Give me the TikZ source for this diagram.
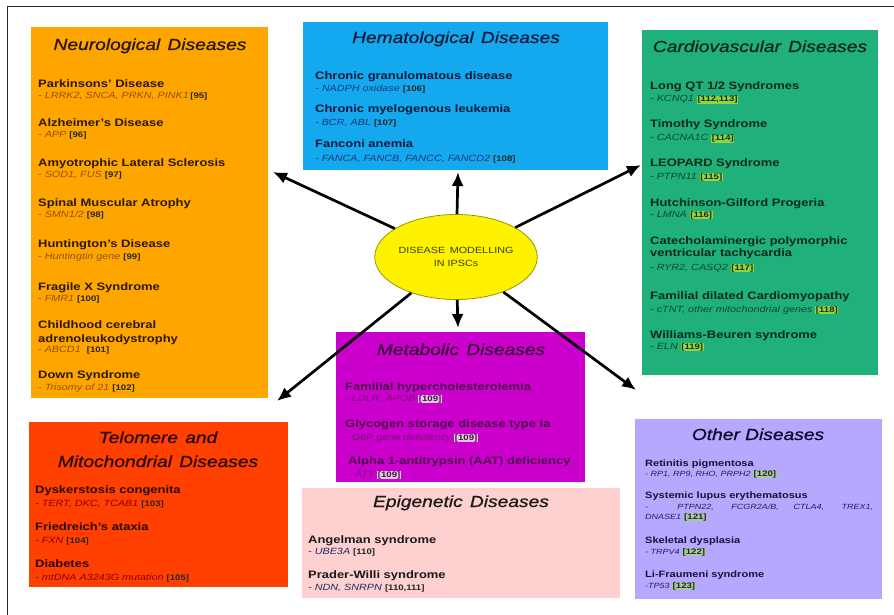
\documentclass[tikz,border=0pt]{standalone}
\usepackage{fontspec}
\setmainfont{Liberation Sans}[FakeStretch=1.2]
\newfontfamily\ttlfont{Liberation Sans}[FakeStretch=1.2, ItalicFeatures={FakeBold=0.8}]
\usetikzlibrary{arrows.meta,shapes.geometric}
\definecolor{cNeu}{RGB}{255,165,0}
\definecolor{cHem}{RGB}{20,168,238}
\definecolor{cCar}{RGB}{32,176,122}
\definecolor{cMet}{RGB}{204,0,204}
\definecolor{cTel}{RGB}{255,64,0}
\definecolor{cEpi}{RGB}{255,208,208}
\definecolor{cOth}{RGB}{182,168,255}
\definecolor{rfCar}{RGB}{140,215,60}
\definecolor{rfMet}{RGB}{245,190,245}
\definecolor{rfOth}{RGB}{165,200,165}
\definecolor{ellBd}{RGB}{150,150,0}
\definecolor{ellTx}{RGB}{60,60,0}
\newcommand\rf[1]{{\fontsize{8}{9}\selectfont\bfseries\upshape\color{black!85}[#1]}}
\newcommand\rfc[2]{{\setlength{\fboxsep}{0.5pt}\colorbox{#1}{\fontsize{8}{9}\selectfont\bfseries\upshape\color{black!85}[#2]}}}
\newcommand\tsp{\hspace{0.45em}}
\newcommand\dis[6]{%
  \node[hd] (#1h) at (#2,#3) {#5};
  \node[sb] (#1s) at (#2,#4) {#6};}
\tikzset{
  ttl/.style={font=\fontsize{16}{19}\selectfont\ttlfont\itshape, anchor=base, inner sep=0},
  hd/.style={font=\fontsize{10.8}{13}\selectfont\bfseries, anchor=base west, inner sep=0},
  sb/.style={font=\fontsize{9}{11}\selectfont\itshape, anchor=base west, inner sep=0},
  arr/.style={line width=2.7pt, -{Latex[length=14pt,width=12pt]}},
}
\begin{document}
\begin{tikzpicture}[x=1pt,y=-1pt]
\useasboundingbox (0,0) rectangle (894,615);
\fill[white] (0,0) rectangle (894,615);
\draw[line width=1pt, black!85] (7,615) -- (7,7) -- (894,7);

% boxes
\fill[cNeu] (31,27) rectangle (268,398);
\fill[cHem] (303,22) rectangle (608,170);
\fill[cCar] (642,30) rectangle (878,375);
\fill[cMet] (336,332) rectangle (585,482);
\fill[cTel] (29,422) rectangle (288,587);
\fill[cEpi] (302,488) rectangle (620,598);
\fill[cOth] (635,419) rectangle (882,599);

% Neurological
\begin{scope}[ttl/.append style={text={rgb,255:red,40;green,22;blue,0}},
  hd/.append style={text={rgb,255:red,42;green,24;blue,0}},
  sb/.append style={text={rgb,255:red,150;green,80;blue,0}}]
\node[ttl] (neuT) at (150,50) {Neurological\tsp Diseases};
\dis{n1}{38}{88}{99}{Parkinsons' Disease}{- LRRK2, SNCA, PRKN, PINK1\,\rf{95}}
\dis{n2}{38}{127}{138}{Alzheimer's Disease}{- APP \rf{96}}
\dis{n3}{38}{166}{177}{Amyotrophic Lateral Sclerosis}{- SOD1, FUS \rf{97}}
\dis{n4}{38}{206}{217}{Spinal Muscular Atrophy}{- SMN1/2 \rf{98}}
\dis{n5}{38}{247}{259}{Huntington's Disease}{- Huntingtin gene \rf{99}}
\dis{n6}{38}{290}{301}{Fragile X Syndrome}{- FMR1 \rf{100}}
\node[hd] (n7a) at (38,328) {Childhood cerebral};
\dis{n7}{38}{342}{352}{adrenoleukodystrophy}{- ABCD1 \ \rf{101}}
\dis{n8}{38}{378}{390}{Down Syndrome}{- Trisomy of 21 \rf{102}}
\end{scope}

% Hematological
\begin{scope}[ttl/.append style={text={rgb,255:red,10;green,30;blue,60}},
  hd/.append style={text={rgb,255:red,10;green,26;blue,58}},
  sb/.append style={text={rgb,255:red,26;green,58;blue,122}}]
\node[ttl] (hemT) at (456,43) {Hematological\tsp Diseases};
\dis{h1}{315}{80}{92}{Chronic granulomatous disease}{- NADPH oxidase \rf{106}}
\dis{h2}{315}{113}{126}{Chronic myelogenous leukemia}{- BCR, ABL \rf{107}}
\dis{h3}{315}{148}{161}{Fanconi anemia}{- FANCA, FANCB, FANCC, FANCD2 \rf{108}}
\end{scope}

% Cardiovascular
\begin{scope}[ttl/.append style={text={rgb,255:red,8;green,40;blue,24}},
  hd/.append style={text={rgb,255:red,10;green,42;blue,24}},
  sb/.append style={text={rgb,255:red,10;green,74;blue,48}}]
\node[ttl] (carT) at (760,52) {Cardiovascular\tsp Diseases};
\dis{c1}{650}{90}{102}{Long QT 1/2 Syndromes}{- KCNQ1 \rfc{rfCar}{112,113}}
\dis{c2}{650}{128}{141}{Timothy Syndrome}{- CACNA1C \rfc{rfCar}{114}}
\dis{c3}{650}{167}{179}{LEOPARD Syndrome}{- PTPN11 \rfc{rfCar}{115}}
\dis{c4}{650}{206}{217}{Hutchinson-Gilford Progeria}{- LMNA \rfc{rfCar}{116}}
\node[hd] (c5a) at (650,244) {Catecholaminergic polymorphic};
\dis{c5}{650}{256}{270}{ventricular tachycardia}{- RYR2, CASQ2 \rfc{rfCar}{117}}
\dis{c6}{650}{299}{312}{Familial dilated Cardiomyopathy}{- cTNT, other mitochondrial genes \rfc{rfCar}{118}}
\dis{c7}{650}{338}{349}{Williams-Beuren syndrome}{- ELN \rfc{rfCar}{119}}
\end{scope}

% Metabolic
\begin{scope}[ttl/.append style={text={rgb,255:red,58;green,0;blue,58}},
  hd/.append style={text={rgb,255:red,74;green,10;blue,74}},
  sb/.append style={text={rgb,255:red,122;green,16;blue,122}}]
\node[ttl] (metT) at (461,355) {Metabolic\tsp Diseases};
\dis{m1}{345}{390}{401}{Familial hypercholesterolemia}{- LDLR, APOB \rfc{rfMet}{109}}
\dis{m2}{345}{427}{440}{Glycogen storage disease type Ia}{- G6P gene deficiency \rfc{rfMet}{109}}
\dis{m3}{348}{464}{477}{Alpha 1-antitrypsin (AAT) deficiency}{- ATT \rfc{rfMet}{109}}
\end{scope}

% Telomere
\begin{scope}[ttl/.append style={text={rgb,255:red,42;green,8;blue,0}},
  hd/.append style={text={rgb,255:red,42;green,8;blue,0}},
  sb/.append style={text={rgb,255:red,140;green,0;blue,0}}]
\node[ttl] (telT1) at (158,443) {Telomere\tsp and};
\node[ttl] (telT2) at (158,467) {Mitochondrial\tsp Diseases};
\dis{t1}{35}{493}{506}{Dyskerstosis congenita}{- TERT, DKC, TCAB1 \rf{103}}
\dis{t2}{35}{530}{543}{Friedreich's ataxia}{- FXN \rf{104}}
\dis{t3}{35}{567}{580}{Diabetes}{- mtDNA A3243G mutation \rf{105}}
\end{scope}

% Epigenetic
\begin{scope}[ttl/.append style={text={rgb,255:red,26;green,26;blue,26}},
  hd/.append style={text={rgb,255:red,26;green,26;blue,26}},
  sb/.append style={text={rgb,255:red,26;green,42;blue,106}}]
\node[ttl] (epiT) at (461,507) {Epigenetic\tsp Diseases};
\dis{e1}{308}{543}{554}{Angelman syndrome}{- UBE3A \rf{110}}
\dis{e2}{308}{578}{590}{Prader-Willi syndrome}{- NDN, SNRPN \rf{110,111}}
\end{scope}

% Other
\begin{scope}[ttl/.append style={text={rgb,255:red,10;green,10;blue,42}},
  hd/.append style={text={rgb,255:red,20;green,20;blue,58},font=\fontsize{9.2}{11}\selectfont\bfseries},
  sb/.append style={text={rgb,255:red,32;green,32;blue,96},font=\fontsize{7.5}{9}\selectfont\itshape}]
\node[ttl] (othT) at (758,440) {Other Diseases};
\dis{o1}{645}{466}{476}{Retinitis pigmentosa}{- RP1, RP9, RHO, PRPH2 \rfc{rfOth}{120}}
\dis{o2}{645}{498}{509}{Systemic lupus erythematosus}{\makebox[228pt][s]{- \ PTPN22, FCGR2A/B, CTLA4, TREX1,}}
\node[sb] (o2b) at (645,519) {DNASE1 \rfc{rfOth}{121}};
\dis{o3}{645}{543}{554}{Skeletal dysplasia}{- TRPV4 \rfc{rfOth}{122}}
\dis{o4}{645}{577}{588}{Li-Fraumeni syndrome}{-TP53 \rfc{rfOth}{123}}
\end{scope}

% centre
\node[ellipse, draw=ellBd, line width=0.8pt, fill=yellow, minimum width=132pt, minimum height=85pt,
  inner sep=0, align=center, text=ellTx, font=\fontsize{9}{13}\selectfont] (ell) at (456,257)
  {DISEASE\, MODELLING\\IN IPSCs};

\coordinate (tNeu) at (273,172);
\coordinate (tHem) at (458,172);
\coordinate (tCar) at (641,165);
\coordinate (tTel) at (277,401);
\coordinate (tMet) at (458,328);
\coordinate (tOth) at (636,390);
\foreach \t in {tNeu,tHem,tCar,tTel,tMet,tOth} \draw[arr] (ell) -- (\t);
\end{tikzpicture}
\end{document}
